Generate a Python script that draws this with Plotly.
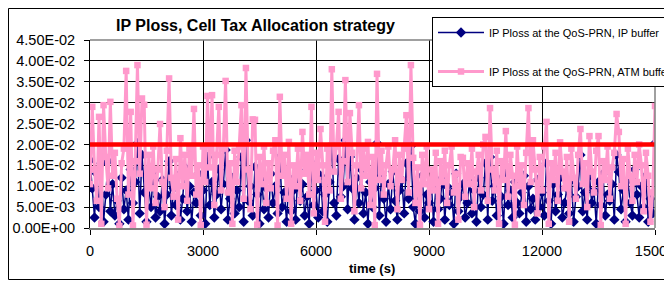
import plotly.graph_objects as go

# ---------------- data ----------------
time_s = list(range(0, 15001, 60))

ip_buffer = [
    0.0162, 0.0095, 0.0025, 0.0130, 0.0050, 0.0155, 0.0015, 0.0080, 0.0160, 0.0040,
    0.0105, 0.0030, 0.0065, 0.0010, 0.0120, 0.0045, 0.0090, 0.0020, 0.0140, 0.0060,
    0.0110, 0.0203, 0.0035, 0.0175, 0.0085, 0.0015, 0.0100, 0.0050, 0.0135, 0.0025,
    0.0075, 0.0040, 0.0115, 0.0010, 0.0080, 0.0160, 0.0030, 0.0095, 0.0055, 0.0125,
    0.0020, 0.0070, 0.0145, 0.0040, 0.0100, 0.0015, 0.0085, 0.0060, 0.0130, 0.0030,
    0.0090, 0.0010, 0.0170, 0.0055, 0.0110, 0.0025, 0.0080, 0.0140, 0.0045, 0.0105,
    0.0187, 0.0020, 0.0070, 0.0120, 0.0035, 0.0090, 0.0050, 0.0170, 0.0015, 0.0210,
    0.0065, 0.0100, 0.0030, 0.0146, 0.0080, 0.0010, 0.0115, 0.0045, 0.0095, 0.0025,
    0.0130, 0.0060, 0.0100, 0.0035, 0.0170, 0.0050, 0.0085, 0.0015, 0.0120, 0.0040,
    0.0090, 0.0020, 0.0140, 0.0065, 0.0105, 0.0030, 0.0075, 0.0010, 0.0156, 0.0055,
    0.0090, 0.0025, 0.0125, 0.0040, 0.0080, 0.0015, 0.0110, 0.0199, 0.0060, 0.0030,
    0.0165, 0.0075, 0.0100, 0.0210, 0.0045, 0.0170, 0.0095, 0.0020, 0.0120, 0.0060,
    0.0140, 0.0035, 0.0085, 0.0010, 0.0110, 0.0050, 0.0095, 0.0203, 0.0030, 0.0125,
    0.0070, 0.0015, 0.0105, 0.0045, 0.0135, 0.0065, 0.0020, 0.0090, 0.0115, 0.0035,
    0.0155, 0.0070, 0.0196, 0.0050, 0.0010, 0.0100, 0.0040, 0.0125, 0.0025, 0.0080,
    0.0060, 0.0110, 0.0015, 0.0095, 0.0045, 0.0070, 0.0120, 0.0020, 0.0100, 0.0055,
    0.0085, 0.0010, 0.0130, 0.0040, 0.0075, 0.0105, 0.0025, 0.0060, 0.0115, 0.0035,
    0.0090, 0.0015, 0.0120, 0.0050, 0.0080, 0.0155, 0.0020, 0.0170, 0.0065, 0.0100,
    0.0030, 0.0115, 0.0075, 0.0010, 0.0134, 0.0055, 0.0090, 0.0025, 0.0110, 0.0060,
    0.0035, 0.0085, 0.0125, 0.0015, 0.0100, 0.0045, 0.0070, 0.0020, 0.0115, 0.0050,
    0.0085, 0.0030, 0.0155, 0.0065, 0.0010, 0.0105, 0.0040, 0.0080, 0.0120, 0.0025,
    0.0060, 0.0095, 0.0035, 0.0115, 0.0015, 0.0075, 0.0100, 0.0175, 0.0040, 0.0085,
    0.0020, 0.0125, 0.0060, 0.0090, 0.0010, 0.0110, 0.0055, 0.0130, 0.0030, 0.0080,
    0.0065, 0.0105, 0.0020, 0.0175, 0.0134, 0.0045, 0.0090, 0.0015, 0.0115, 0.0060,
    0.0030, 0.0140, 0.0080, 0.0025, 0.0100, 0.0050, 0.0125, 0.0015, 0.0070, 0.0035,
    0.0203,
]

atm_buffer = [
    0.0105, 0.0290, 0.0140, 0.0065, 0.0266, 0.0010, 0.0294, 0.0170, 0.0095, 0.0302,
    0.0125, 0.0180, 0.0070, 0.0005, 0.0155, 0.0190, 0.0376, 0.0080, 0.0278, 0.0006,
    0.0160, 0.0390, 0.0130, 0.0310, 0.0295, 0.0008, 0.0175, 0.0095, 0.0195, 0.0060,
    0.0140, 0.0249, 0.0110, 0.0050, 0.0185, 0.0358, 0.0120, 0.0075, 0.0165, 0.0020,
    0.0215, 0.0100, 0.0175, 0.0065, 0.0190, 0.0125, 0.0285, 0.0080, 0.0150, 0.0007,
    0.0195, 0.0110, 0.0316, 0.0145, 0.0318, 0.0055, 0.0175, 0.0290, 0.0090, 0.0190,
    0.0352, 0.0085, 0.0155, 0.0010, 0.0185, 0.0110, 0.0195, 0.0294, 0.0070, 0.0383,
    0.0140, 0.0045, 0.0260, 0.0259, 0.0008, 0.0170, 0.0105, 0.0195, 0.0060, 0.0155,
    0.0095, 0.0185, 0.0210, 0.0006, 0.0314, 0.0125, 0.0175, 0.0070, 0.0206, 0.0010,
    0.0150, 0.0100, 0.0190, 0.0065, 0.0230, 0.0130, 0.0175, 0.0080, 0.0290, 0.0035,
    0.0180, 0.0115, 0.0237, 0.0150, 0.0015, 0.0190, 0.0090, 0.0380, 0.0135, 0.0195,
    0.0278, 0.0070, 0.0160, 0.0354, 0.0110, 0.0275, 0.0180, 0.0040, 0.0150, 0.0294,
    0.0095, 0.0190, 0.0125, 0.0206, 0.0055, 0.0170, 0.0007, 0.0369, 0.0115, 0.0185,
    0.0080, 0.0150, 0.0195, 0.0100, 0.0140, 0.0210, 0.0045, 0.0175, 0.0115, 0.0190,
    0.0270, 0.0085, 0.0390, 0.0168, 0.0060, 0.0145, 0.0008, 0.0175, 0.0105, 0.0195,
    0.0045, 0.0140, 0.0090, 0.0180, 0.0010, 0.0160, 0.0110, 0.0185, 0.0060, 0.0150,
    0.0195, 0.0085, 0.0130, 0.0020, 0.0170, 0.0168, 0.0075, 0.0155, 0.0105, 0.0190,
    0.0050, 0.0135, 0.0175, 0.0090, 0.0200, 0.0218, 0.0065, 0.0287, 0.0140, 0.0090,
    0.0185, 0.0010, 0.0160, 0.0115, 0.0232, 0.0075, 0.0175, 0.0125, 0.0008, 0.0195,
    0.0100, 0.0150, 0.0055, 0.0180, 0.0287, 0.0110, 0.0210, 0.0140, 0.0035, 0.0170,
    0.0090, 0.0195, 0.0254, 0.0010, 0.0155, 0.0115, 0.0180, 0.0065, 0.0205, 0.0135,
    0.0095, 0.0170, 0.0015, 0.0190, 0.0120, 0.0070, 0.0175, 0.0237, 0.0105, 0.0155,
    0.0050, 0.0220, 0.0135, 0.0085, 0.0185, 0.0220, 0.0007, 0.0160, 0.0115, 0.0195,
    0.0070, 0.0145, 0.0180, 0.0273, 0.0230, 0.0100, 0.0165, 0.0010, 0.0190, 0.0125,
    0.0065, 0.0175, 0.0110, 0.0200, 0.0150, 0.0040, 0.0180, 0.0125, 0.0015, 0.0085,
    0.0292,
]

threshold = 0.02

y_tick_vals = [0.0, 0.005, 0.010, 0.015, 0.020, 0.025, 0.030, 0.035, 0.040, 0.045]
y_tick_text = ["0.00E+00", "5.00E-03", "1.00E-02", "1.50E-02", "2.00E-02",
               "2.50E-02", "3.00E-02", "3.50E-02", "4.00E-02", "4.50E-02"]
x_tick_vals = [0, 3000, 6000, 9000, 12000, 15000]
x_tick_text = ["0", "3000", "6000", "9000", "12000", "15000"]

series_names = ["IP Ploss at the QoS-PRN, IP buffer",
                "IP Ploss at the QoS-PRN, ATM buffer"]
title_text = "IP Ploss, Cell Tax Allocation strategy"
x_title = "time (s)"

# ---------------- layout geometry ----------------
# The page body adds an 8px margin, so the figure is drawn 8px smaller and
# all page-pixel positions below are shifted by OFF.
OFF = 8
W, H = 672 - OFF, 282 - OFF
PL, PR, PT, PB = 90 - OFF, 655 - OFF, 40 - OFF, 228 - OFF   # plot area edges (figure px)
pw, ph = PR - PL, PB - PT


def px(xpage):
    return (xpage - OFF - PL) / pw


def py(ypage):
    return (PB - (ypage - OFF)) / ph


FONT = "Arial, 'Liberation Sans', sans-serif"
NAVY = "#000080"
PINK = "#FF99CC"

fig = go.Figure()

fig.add_trace(go.Scatter(
    x=time_s, y=ip_buffer, name=series_names[0], mode="lines+markers",
    line=dict(color=NAVY, width=1.5),
    marker=dict(symbol="diamond", size=8, color=NAVY),
    legendgroup="a",
))
fig.add_trace(go.Scatter(
    x=time_s, y=atm_buffer, name=series_names[1], mode="lines+markers",
    line=dict(color=PINK, width=3),
    marker=dict(symbol="square", size=6.5, color=PINK),
    legendgroup="b",
))
fig.add_trace(go.Scatter(
    x=[time_s[0], time_s[-1]], y=[threshold, threshold], mode="lines",
    line=dict(color="#FF0000", width=4.5), showlegend=False, hoverinfo="skip",
))

fig.update_layout(
    width=W, height=H,
    margin=dict(l=PL, r=W - PR, t=PT, b=H - PB, autoexpand=False),
    paper_bgcolor="white", plot_bgcolor="white",
    font=dict(family=FONT, color="black", size=14),
    showlegend=True,
    legend=dict(
        x=px(432), y=py(17), xanchor="left", yanchor="top",
        bgcolor="white", bordercolor="black", borderwidth=1,
        font=dict(family=FONT, size=11, color="black"),
        tracegroupgap=20, itemwidth=46,
    ),
    xaxis=dict(
        range=[0, 15000], tickvals=x_tick_vals, ticktext=x_tick_text,
        showgrid=True, gridcolor="black", gridwidth=1,
        showline=True, linecolor="#808080", linewidth=2,
        ticks="outside", ticklen=5, tickcolor="black",
        ticklabelstandoff=4, zeroline=False, ticklabeloverflow="allow",
        tickfont=dict(size=14.5),
    ),
    yaxis=dict(
        range=[0, 0.045], tickvals=y_tick_vals, ticktext=y_tick_text,
        showgrid=True, gridcolor="black", gridwidth=1,
        showline=True, linecolor="black", linewidth=1,
        ticks="outside", ticklen=5, tickcolor="black",
        ticklabelstandoff=6, zeroline=False,
        tickfont=dict(size=14.5),
    ),
    shapes=[
        # outer chart border
        dict(type="rect", xref="paper", yref="paper",
             x0=px(8.5), x1=px(680), y0=py(279.5), y1=py(8.5),
             line=dict(color="black", width=1), fillcolor="rgba(0,0,0,0)",
             layer="above"),
        # plot area top and right border (gray)
        dict(type="line", xref="paper", yref="paper",
             x0=0, x1=1, y0=1, y1=1, line=dict(color="#808080", width=1.5)),
        dict(type="line", xref="paper", yref="paper",
             x0=1, x1=1, y0=0, y1=1, line=dict(color="#808080", width=1.5)),
    ],
    annotations=[
        dict(text="<b>" + title_text + "</b>", xref="paper", yref="paper",
             x=px(255), y=py(25), xanchor="center", yanchor="middle",
             showarrow=False, font=dict(family=FONT, size=16, color="black")),
        dict(text="<b>" + x_title + "</b>", xref="paper", yref="paper",
             x=px(372), y=py(268), xanchor="center", yanchor="middle",
             showarrow=False, font=dict(family=FONT, size=13, color="black")),
    ],
)

fig.write_html("out.html")
